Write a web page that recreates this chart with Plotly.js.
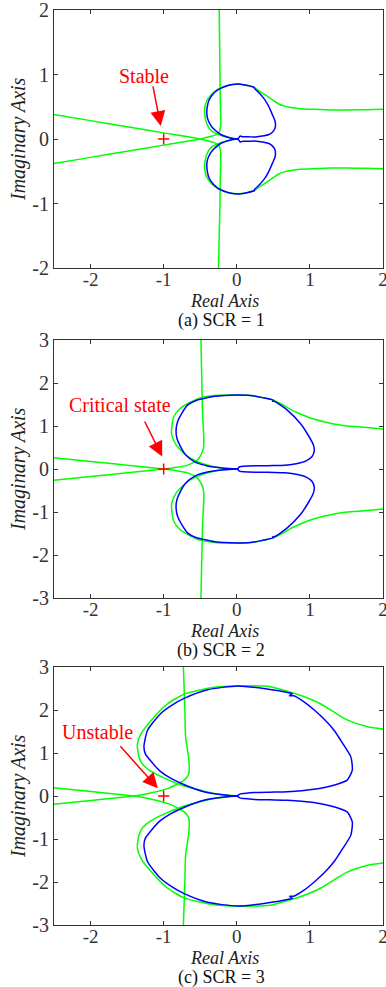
<!DOCTYPE html>
<html>
<head>
<meta charset="utf-8">
<script src="https://cdn.plot.ly/plotly-3.0.1.min.js"></script>
<style>html,body{margin:0;padding:0;background:#fff;}#chart{width:386px;height:987px;}</style>
</head>
<body>
<div id="chart"></div>
<script>
// ---------- tick labels ----------
const xTickVals = [-2, -1, 0, 1, 2];
const xTickText = ['-2', '-1', '0', '1', '2'];
const yTickValsA = [-2, -1, 0, 1, 2];
const yTickTextA = ['-2', '-1', '0', '1', '2'];
const yTickValsBC = [-3, -2, -1, 0, 1, 2, 3];
const yTickTextBC = ['-3', '-2', '-1', '0', '1', '2', '3'];

const captions = ['(a) SCR = 1', '(b) SCR = 2', '(c) SCR = 3'];
const notes = ['Stable', 'Critical state', 'Unstable'];

// ---------- panel (a) SCR = 1 ----------
const aBlueUpX = [0.00,-0.10,-0.22,-0.31,-0.36,-0.40,-0.41,-0.40,-0.38,-0.33,-0.26,-0.17,-0.08,0.05,0.15,0.24,0.245,0.30,0.37,0.43,0.49,0.52,0.53,0.52,0.49,0.44,0.37,0.30,0.24,0.16,0.10,0.065,0.045,0.03,0.00];
const aBlueUpY = [0.00,0.02,0.07,0.15,0.22,0.32,0.42,0.52,0.60,0.69,0.76,0.81,0.84,0.85,0.83,0.80,0.78,0.72,0.63,0.52,0.37,0.29,0.22,0.16,0.11,0.07,0.05,0.04,0.03,0.035,0.035,0.04,0.045,0.02,0.00];
const aBlueLoX = [0.00,-0.10,-0.22,-0.31,-0.36,-0.40,-0.41,-0.40,-0.38,-0.33,-0.26,-0.17,-0.08,0.05,0.15,0.24,0.245,0.30,0.37,0.43,0.49,0.52,0.53,0.52,0.49,0.44,0.37,0.30,0.24,0.16,0.10,0.065,0.045,0.03,0.00];
const aBlueLoY = [0.00,-0.02,-0.07,-0.15,-0.22,-0.32,-0.42,-0.52,-0.60,-0.69,-0.76,-0.81,-0.84,-0.85,-0.83,-0.80,-0.78,-0.72,-0.63,-0.52,-0.37,-0.29,-0.22,-0.16,-0.11,-0.07,-0.05,-0.04,-0.03,-0.035,-0.035,-0.04,-0.045,-0.02,0.00];
const aGreenUpX = [0.00,-0.20,-0.36,-0.42,-0.44,-0.43,-0.39,-0.30,-0.18,-0.05,0.05,0.15,0.25,0.34,0.42,0.50,0.56,0.65,0.74,0.87,1.06,1.30,1.51,1.75,2.00];
const aGreenUpY = [0.00,0.05,0.14,0.27,0.42,0.53,0.63,0.74,0.81,0.845,0.85,0.83,0.79,0.72,0.66,0.60,0.55,0.51,0.49,0.47,0.46,0.45,0.45,0.455,0.46];
const aGreenLoX = [0.00,-0.20,-0.36,-0.42,-0.44,-0.43,-0.39,-0.30,-0.18,-0.05,0.05,0.15,0.25,0.34,0.42,0.50,0.56,0.65,0.74,0.87,1.06,1.30,1.51,1.75,2.00];
const aGreenLoY = [0.00,-0.05,-0.14,-0.27,-0.42,-0.53,-0.63,-0.74,-0.81,-0.845,-0.85,-0.83,-0.79,-0.72,-0.66,-0.60,-0.55,-0.51,-0.49,-0.47,-0.46,-0.45,-0.45,-0.455,-0.46];
const aVertUpX = [-0.24,-0.235,-0.23,-0.225,-0.22,-0.22,-0.24,-0.30,-0.36,-0.43,-0.50,-1.00,-1.50,-2.00,-2.50];
const aVertUpY = [2.00,1.50,1.00,0.60,0.35,0.22,0.11,0.06,0.04,0.02,0.00,-0.095,-0.19,-0.285,-0.38];
const aVertLoX = [-0.25,-0.24,-0.23,-0.225,-0.22,-0.22,-0.24,-0.30,-0.36,-0.43,-0.50,-1.00,-1.50,-2.00,-2.50];
const aVertLoY = [-2.00,-1.50,-1.00,-0.60,-0.35,-0.22,-0.11,-0.06,-0.04,-0.02,0.00,0.095,0.19,0.285,0.38];

// ---------- panel (b) SCR = 2 ----------
const bBlueUpX = [0.00,-0.17,-0.40,-0.58,-0.70,-0.77,-0.82,-0.83,-0.81,-0.75,-0.67,-0.55,-0.45,-0.30,-0.17,0.00,0.19,0.35,0.50,0.49,0.52,0.69,0.87,0.99,1.05,1.06,1.03,0.95,0.83,0.66,0.51,0.33,0.15,0.06,0.035,0.02,0.00];
const bBlueUpY = [0.00,0.02,0.07,0.17,0.33,0.52,0.72,0.91,1.10,1.30,1.49,1.60,1.64,1.69,1.71,1.72,1.71,1.66,1.60,1.575,1.57,1.37,1.06,0.75,0.55,0.42,0.29,0.19,0.13,0.09,0.08,0.075,0.07,0.06,0.05,0.02,0.00];
const bBlueLoX = [0.00,-0.17,-0.40,-0.58,-0.70,-0.77,-0.82,-0.83,-0.81,-0.75,-0.67,-0.55,-0.45,-0.30,-0.17,0.00,0.19,0.35,0.50,0.49,0.52,0.69,0.87,0.99,1.05,1.06,1.03,0.95,0.83,0.66,0.51,0.33,0.15,0.06,0.035,0.02,0.00];
const bBlueLoY = [0.00,-0.02,-0.07,-0.17,-0.33,-0.52,-0.72,-0.91,-1.10,-1.30,-1.49,-1.60,-1.64,-1.69,-1.71,-1.72,-1.71,-1.66,-1.60,-1.575,-1.57,-1.37,-1.06,-0.75,-0.55,-0.42,-0.29,-0.19,-0.13,-0.09,-0.08,-0.075,-0.07,-0.06,-0.05,-0.02,0.00];
const bGreenUpX = [0.00,-0.17,-0.45,-0.67,-0.83,-0.89,-0.89,-0.86,-0.78,-0.65,-0.49,-0.30,-0.10,0.10,0.30,0.50,0.62,0.74,0.87,0.97,1.10,1.19,1.35,1.51,1.75,2.00];
const bGreenUpY = [0.00,0.01,0.12,0.29,0.56,0.80,0.95,1.22,1.40,1.54,1.66,1.71,1.72,1.72,1.68,1.60,1.50,1.38,1.28,1.21,1.14,1.10,1.04,1.00,0.97,0.93];
const bGreenLoX = [0.00,-0.17,-0.45,-0.67,-0.83,-0.89,-0.89,-0.86,-0.78,-0.65,-0.49,-0.30,-0.10,0.10,0.30,0.50,0.62,0.74,0.87,0.97,1.10,1.19,1.35,1.51,1.75,2.00];
const bGreenLoY = [0.00,-0.01,-0.12,-0.29,-0.56,-0.80,-0.95,-1.22,-1.40,-1.54,-1.66,-1.71,-1.72,-1.72,-1.68,-1.60,-1.50,-1.38,-1.28,-1.21,-1.14,-1.10,-1.04,-1.00,-0.97,-0.93];
const bVertUpX = [-0.49,-0.48,-0.47,-0.46,-0.45,-0.46,-0.49,-0.54,-0.67,-0.86,-1.00,-1.50,-2.00,-2.50];
const bVertUpY = [3.00,2.20,1.40,1.00,0.67,0.45,0.33,0.21,0.09,0.03,0.00,-0.09,-0.175,-0.26];
const bVertLoX = [-0.49,-0.48,-0.47,-0.46,-0.45,-0.46,-0.49,-0.54,-0.67,-0.86,-1.00,-1.50,-2.00,-2.50];
const bVertLoY = [-3.00,-2.20,-1.40,-1.00,-0.67,-0.45,-0.33,-0.21,-0.09,-0.03,0.00,0.09,0.175,0.26];

// ---------- panel (c) SCR = 3 ----------
const cBlueUpX = [0.00,-0.20,-0.45,-0.70,-0.90,-1.05,-1.17,-1.25,-1.27,-1.22,-1.04,-0.88,-0.72,-0.40,0.01,0.37,0.74,0.76,0.72,0.78,0.92,1.06,1.20,1.33,1.45,1.56,1.58,1.51,1.35,1.15,0.92,0.69,0.45,0.24,0.10,0.05,0.02,0.00];
const cBlueUpY = [0.00,0.03,0.10,0.25,0.41,0.58,0.80,0.98,1.15,1.53,1.92,2.12,2.27,2.47,2.56,2.50,2.39,2.38,2.33,2.33,2.19,2.00,1.78,1.53,1.22,0.91,0.60,0.37,0.26,0.18,0.13,0.10,0.09,0.08,0.06,0.05,0.02,0.00];
const cBlueLoX = [0.00,-0.20,-0.45,-0.70,-0.90,-1.05,-1.17,-1.25,-1.27,-1.22,-1.04,-0.88,-0.72,-0.40,0.01,0.37,0.74,0.76,0.72,0.78,0.92,1.06,1.20,1.33,1.45,1.56,1.58,1.51,1.35,1.15,0.92,0.69,0.45,0.24,0.10,0.05,0.02,0.00];
const cBlueLoY = [0.00,-0.03,-0.10,-0.25,-0.41,-0.58,-0.80,-0.98,-1.15,-1.53,-1.92,-2.12,-2.27,-2.47,-2.56,-2.50,-2.39,-2.38,-2.33,-2.33,-2.19,-2.00,-1.78,-1.53,-1.22,-0.91,-0.60,-0.37,-0.26,-0.18,-0.13,-0.10,-0.09,-0.08,-0.06,-0.05,-0.02,0.00];
const cGreenUpX = [0.00,-0.31,-0.77,-1.13,-1.28,-1.34,-1.36,-1.31,-1.13,-0.95,-0.72,-0.31,0.01,0.46,0.78,0.97,1.15,1.33,1.51,1.79,2.00];
const cGreenUpY = [0.00,0.06,0.26,0.53,0.72,0.92,1.20,1.45,1.84,2.14,2.37,2.53,2.56,2.54,2.39,2.28,2.14,1.95,1.77,1.61,1.56];
const cGreenLoX = [0.00,-0.31,-0.77,-1.13,-1.28,-1.34,-1.36,-1.31,-1.13,-0.95,-0.72,-0.31,0.01,0.46,0.78,0.97,1.15,1.33,1.51,1.79,2.00];
const cGreenLoY = [0.00,-0.06,-0.26,-0.53,-0.72,-0.92,-1.20,-1.45,-1.84,-2.14,-2.37,-2.53,-2.56,-2.54,-2.39,-2.28,-2.14,-1.95,-1.77,-1.61,-1.56];
const cVertUpX = [-0.73,-0.71,-0.70,-0.66,-0.65,-0.66,-0.72,-0.80,-0.92,-1.15,-1.40,-1.80,-2.20,-2.50];
const cVertUpY = [3.00,2.00,1.38,0.91,0.70,0.50,0.37,0.29,0.19,0.08,0.00,-0.07,-0.14,-0.19];
const cVertLoX = [-0.73,-0.71,-0.70,-0.66,-0.65,-0.66,-0.72,-0.80,-0.92,-1.15,-1.40,-1.80,-2.20,-2.50];
const cVertLoY = [-3.00,-2.00,-1.38,-0.91,-0.70,-0.50,-0.37,-0.29,-0.19,-0.08,0.00,0.07,0.14,0.19];

// critical point
const critX = [-1];
const critY = [0];

// annotation anchors (data coords): text position, arrow tail, arrow tip
const noteX = [-1.27, -1.60, -1.90];
const noteY = [0.98, 1.49, 1.48];
const arrowTailX = [-1.15, -1.27, -1.61];
const arrowTailY = [0.84, 1.14, 1.19];
const arrowTipX = [-1.04, -1.02, -1.08];
const arrowTipY = [0.20, 0.29, 0.18];

// ---------- build ----------
const GREEN = '#00ff00', BLUE = '#0000ff', RED = '#ff0000';
const FONT = 'Liberation Serif, Times New Roman, serif';
const panels = [
  {xa:'x', ya:'y', blue:[[aBlueUpX,aBlueUpY],[aBlueLoX,aBlueLoY]], green:[[aGreenUpX,aGreenUpY],[aGreenLoX,aGreenLoY],[aVertUpX,aVertUpY],[aVertLoX,aVertLoY]]},
  {xa:'x2', ya:'y2', blue:[[bBlueUpX,bBlueUpY],[bBlueLoX,bBlueLoY]], green:[[bGreenUpX,bGreenUpY],[bGreenLoX,bGreenLoY],[bVertUpX,bVertUpY],[bVertLoX,bVertLoY]]},
  {xa:'x3', ya:'y3', blue:[[cBlueUpX,cBlueUpY],[cBlueLoX,cBlueLoY]], green:[[cGreenUpX,cGreenUpY],[cGreenLoX,cGreenLoY],[cVertUpX,cVertUpY],[cVertLoX,cVertLoY]]}
];

const traces = [];
panels.forEach(p => {
  p.green.forEach(([x,y]) => traces.push({x, y, xaxis:p.xa, yaxis:p.ya, type:'scatter', mode:'lines',
    line:{color:GREEN, width:1.5, shape:'spline', smoothing:0.6}, hoverinfo:'skip'}));
  p.blue.forEach(([x,y]) => traces.push({x, y, xaxis:p.xa, yaxis:p.ya, type:'scatter', mode:'lines',
    line:{color:BLUE, width:1.5, shape:'spline', smoothing:0.6}, hoverinfo:'skip'}));
  traces.push({x:critX, y:critY, xaxis:p.xa, yaxis:p.ya, type:'scatter', mode:'markers',
    marker:{symbol:'cross-thin', size:8, color:RED, line:{color:RED, width:1.5}}, hoverinfo:'skip'});
});

const W = 386, H = 987;
const xDom = [54/W, 383/W];
const plotTops = [10, 340, 667];
const plotBots = [268, 598, 925];
const yDoms = plotTops.map((t,i) => [1 - plotBots[i]/H, 1 - t/H]);

function xAxis(anchor){
  return {domain:xDom, range:[-2.5,2], anchor, tickvals:xTickVals, ticktext:xTickText,
    ticks:'inside', ticklen:4, tickcolor:'#333', showline:true, mirror:'ticks', linecolor:'#333', linewidth:1,
    showgrid:false, zeroline:false, fixedrange:true, ticklabeloverflow:'allow', ticklabelstandoff:-6,
    tickfont:{family:FONT, size:19, color:'#333'}};
}
function yAxis(anchor, dom, rng, vals, text){
  return {domain:dom, range:rng, anchor, tickvals:vals, ticktext:text,
    ticks:'inside', ticklen:4, tickcolor:'#333', showline:true, mirror:'ticks', linecolor:'#333', linewidth:1,
    showgrid:false, zeroline:false, fixedrange:true, ticklabeloverflow:'allow',
    tickfont:{family:FONT, size:20, color:'#333'}};
}

const annotations = [];
const xrefs = ['x','x2','x3'], yrefs = ['y','y2','y3'];
for (let i = 0; i < 3; i++) {
  const bot = plotBots[i], top = plotTops[i];
  annotations.push({xref:'paper', yref:'paper', x:225/W, y:1-(bot+32.5)/H, xanchor:'center', yanchor:'middle',
    text:'<i>Real Axis</i>', showarrow:false, font:{family:FONT, size:18, color:'#222'}});
  annotations.push({xref:'paper', yref:'paper', x:221/W, y:1-(bot+52)/H, xanchor:'center', yanchor:'middle',
    text:captions[i], showarrow:false, font:{family:FONT, size:18, color:'#111'}});
  annotations.push({xref:'paper', yref:'paper', x:18/W, y:1-((top+bot)/2)/H, xanchor:'center', yanchor:'middle',
    text:'<i>Imaginary Axis</i>', textangle:-90, showarrow:false, font:{family:FONT, size:20, color:'#222'}});
  annotations.push({xref:xrefs[i], yref:yrefs[i], x:noteX[i], y:noteY[i], xanchor:'center', yanchor:'middle',
    text:notes[i], showarrow:false, font:{family:FONT, size:20, color:RED}});
  annotations.push({xref:xrefs[i], yref:yrefs[i], x:arrowTipX[i], y:arrowTipY[i],
    axref:xrefs[i], ayref:yrefs[i], ax:arrowTailX[i], ay:arrowTailY[i], text:'',
    showarrow:true, arrowhead:2, arrowsize:2, arrowwidth:1.5, arrowcolor:RED, standoff:0, startstandoff:0});
}

const layout = {
  width:W, height:H, margin:{l:0,r:0,t:0,b:0}, paper_bgcolor:'#fff', plot_bgcolor:'#fff',
  showlegend:false,
  xaxis:xAxis('y'), yaxis:yAxis('x', yDoms[0], [-2,2], yTickValsA, yTickTextA),
  xaxis2:xAxis('y2'), yaxis2:yAxis('x2', yDoms[1], [-3,3], yTickValsBC, yTickTextBC),
  xaxis3:xAxis('y3'), yaxis3:yAxis('x3', yDoms[2], [-3,3], yTickValsBC, yTickTextBC),
  annotations
};

Plotly.newPlot('chart', traces, layout, {staticPlot:true, displayModeBar:false});
</script>
</body>
</html>
